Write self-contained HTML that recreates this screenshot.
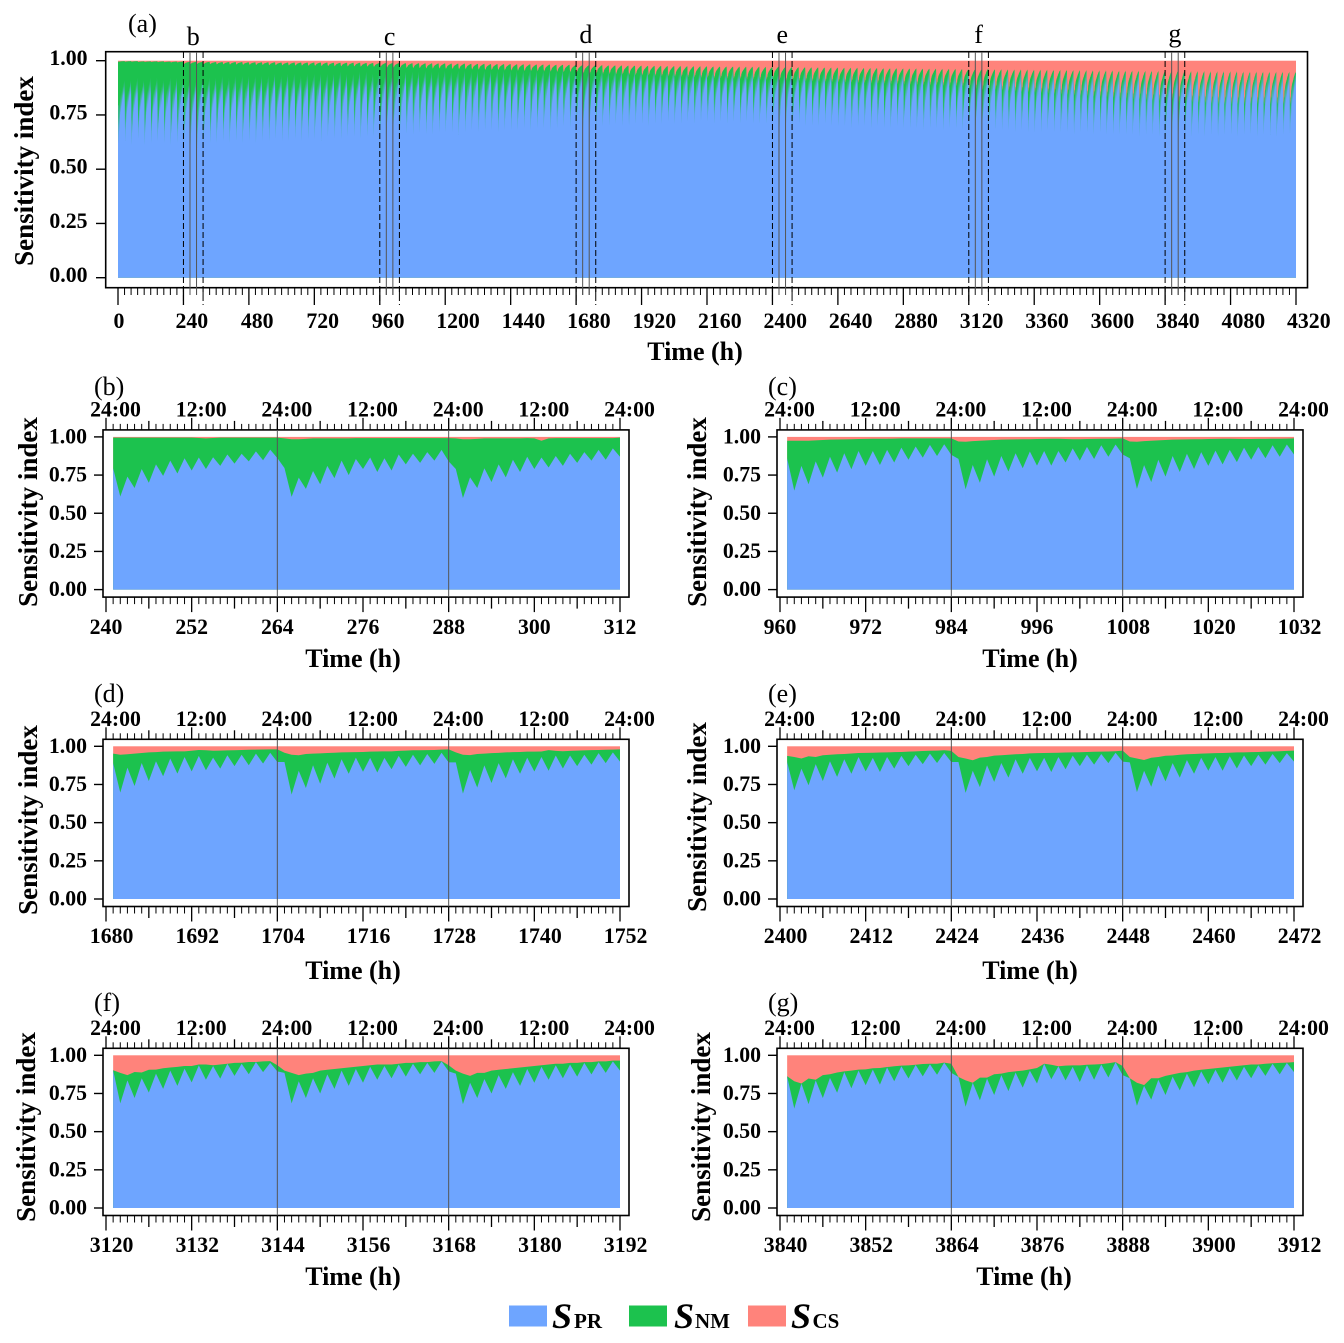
<!DOCTYPE html>
<html>
<head>
<meta charset="utf-8">
<title>Sensitivity index time series</title>
<style>
html,body{margin:0;padding:0;background:#fff;}
svg{display:block;}
text{font-family:"Liberation Serif",serif;fill:#000;}
.tick{font-size:21.8px;font-weight:bold;}
.title{font-size:26px;font-weight:bold;}
.ytitle{font-size:27px;font-weight:bold;}
.tag{font-size:26px;}
</style>
</head>
<body>
<svg id="figure" xmlns="http://www.w3.org/2000/svg" width="1344" height="1343" viewBox="0 0 1344 1343">
  <defs>
    <filter id="soften" x="-1%" y="-1%" width="102%" height="102%"><feGaussianBlur stdDeviation="0.35"/></filter>
  </defs>
  <g id="legend">
    <rect x="509" y="1305.5" width="38" height="21" fill="#6EA5FF"/>
    <text x="552" y="1328" font-size="36" font-weight="bold" font-style="italic">S</text>
    <text x="574" y="1328" font-size="21" font-weight="bold">PR</text>
    <rect x="629" y="1305.5" width="38" height="21" fill="#1CC24E"/>
    <text x="674" y="1328" font-size="36" font-weight="bold" font-style="italic">S</text>
    <text x="695" y="1328" font-size="21" font-weight="bold">NM</text>
    <rect x="748" y="1305.5" width="38" height="21" fill="#FF837B"/>
    <text x="791" y="1328" font-size="36" font-weight="bold" font-style="italic">S</text>
    <text x="812.5" y="1328" font-size="21" font-weight="bold">CS</text>
  </g>
</svg>
<script>
// ---------- shared tick labels ----------
const yTickLabels = ['0.00','0.25','0.50','0.75','1.00'];
const clockTickLabels = ['24:00','12:00','24:00','12:00','24:00','12:00','24:00'];
const overviewTickLabels = ['0','240','480','720','960','1200','1440','1680','1920','2160','2400','2640','2880','3120','3360','3600','3840','4080','4320'];

// ---------- overview panel (a): one reading per day ----------
const overviewDayTroughPR = [
.62,.63,.61,.64,.61,.62,.63,.62,.61,.62,
.61,.61,.60,.62,.62,.62,.63,.62,.63,.62,
.63,.62,.63,.63,.64,.63,.63,.64,.63,.64,
.64,.63,.65,.64,.64,.65,.65,.64,.65,.65,
.65,.66,.66,.65,.66,.66,.67,.66,.66,.67,
.67,.67,.66,.67,.68,.67,.68,.68,.67,.68,
.68,.68,.69,.68,.69,.69,.68,.69,.70,.69,
.70,.684,.70,.69,.70,.70,.71,.70,.70,.71,
.71,.70,.71,.71,.72,.71,.71,.72,.71,.72,
.72,.71,.72,.71,.72,.71,.72,.71,.71,.71,
.712,.695,.71,.70,.71,.70,.70,.70,.71,.70,
.70,.70,.69,.70,.70,.69,.70,.69,.69,.70,
.69,.69,.69,.68,.69,.69,.68,.69,.69,.68,
.685,.685,.68,.68,.68,.68,.68,.67,.68,.67,
.67,.67,.68,.67,.67,.67,.66,.67,.67,.66,
.67,.66,.66,.66,.66,.66,.65,.66,.66,.65,
.652,.663,.66,.66,.65,.66,.65,.66,.65,.66,
.66,.65,.66,.66,.65,.66,.66,.65,.66,.66];
const overviewDayCrestPR = [
.91,.91,.92,.91,.92,.92,.91,.92,.92,.92,
.917,.915,.925,.92,.92,.93,.92,.93,.93,.93,
.93,.93,.93,.94,.93,.94,.94,.93,.94,.94,
.94,.94,.94,.95,.94,.94,.95,.95,.94,.95,
.952,.95,.95,.95,.95,.95,.955,.95,.95,.955,
.95,.955,.955,.95,.955,.955,.955,.955,.955,.955,
.955,.955,.96,.955,.955,.96,.955,.96,.955,.96,
.958,.958,.96,.96,.955,.96,.96,.96,.955,.96,
.96,.96,.955,.96,.96,.96,.96,.955,.96,.96,
.96,.96,.955,.96,.96,.955,.96,.96,.955,.96,
.956,.958,.955,.955,.96,.955,.955,.96,.955,.955,
.96,.955,.955,.955,.96,.955,.955,.955,.955,.96,
.955,.955,.955,.96,.955,.955,.955,.955,.955,.96,
.956,.96,.955,.955,.955,.955,.955,.955,.955,.955,
.955,.955,.955,.955,.95,.955,.955,.955,.95,.955,
.955,.95,.955,.955,.95,.955,.95,.955,.95,.95,
.952,.955,.95,.95,.955,.95,.95,.95,.955,.95,
.95,.95,.955,.95,.95,.95,.95,.95,.95,.95];
const overviewDayTopNM = [
.998,.998,.998,.997,.997,.997,.997,.996,.996,.996,
.995,.995,.995,.995,.994,.994,.994,.994,.994,.993,
.993,.993,.993,.993,.992,.992,.992,.992,.992,.992,
.992,.992,.991,.991,.991,.991,.991,.99,.99,.99,
.99,.99,.99,.989,.989,.989,.988,.988,.988,.988,
.987,.987,.987,.986,.986,.986,.985,.985,.985,.985,
.984,.984,.984,.983,.983,.983,.982,.982,.982,.981,
.98,.98,.98,.98,.979,.979,.979,.978,.978,.978,
.977,.977,.977,.976,.976,.976,.975,.975,.975,.975,
.974,.974,.974,.974,.973,.973,.973,.973,.972,.972,
.974,.972,.972,.971,.971,.97,.97,.97,.969,.969,
.968,.968,.968,.967,.967,.967,.966,.966,.966,.965,
.965,.965,.964,.964,.964,.963,.963,.963,.962,.962,
.962,.962,.965,.961,.961,.96,.96,.96,.96,.959,
.959,.959,.958,.958,.958,.957,.957,.957,.956,.956,
.956,.956,.955,.955,.955,.955,.954,.954,.954,.954,
.952,.955,.954,.953,.953,.953,.952,.952,.952,.952,
.952,.951,.951,.951,.951,.95,.95,.95,.95,.95];
const overviewDayDipNM = [
.995,.995,.995,.994,.994,.994,.993,.993,.992,.992,
.985,.985,.985,.984,.984,.983,.983,.982,.982,.981,
.981,.98,.98,.979,.979,.978,.978,.977,.977,.976,
.976,.975,.975,.974,.974,.973,.973,.972,.972,.971,
.97,.968,.968,.967,.966,.965,.965,.964,.963,.963,
.962,.961,.96,.96,.959,.958,.957,.957,.956,.955,
.954,.953,.952,.952,.951,.95,.949,.948,.947,.946,
.945,.941,.94,.94,.939,.938,.937,.936,.934,.933,
.932,.931,.93,.928,.927,.926,.925,.924,.922,.921,
.92,.919,.918,.917,.916,.915,.914,.913,.912,.911,
.92,.909,.908,.907,.906,.905,.904,.903,.902,.901,
.90,.899,.898,.897,.896,.895,.894,.893,.892,.891,
.89,.889,.888,.887,.886,.885,.884,.883,.882,.881,
.87,.87,.865,.868,.865,.863,.86,.858,.856,.854,
.852,.85,.848,.846,.844,.842,.84,.838,.836,.834,
.832,.83,.828,.826,.824,.822,.82,.818,.816,.814,
.815,.82,.805,.81,.808,.806,.804,.802,.80,.80,
.80,.80,.80,.80,.80,.80,.80,.80,.80,.80];
// hour-of-day position between the day's trough/crest
const hourlyShapePR = [.60,0,.42,.18,.59,.29,.68,.44,.77,.49,.81,.55,.83,.59,.84,.65,.90,.70,.91,.75,.96,.77,1,.82];
const hourlyShapeNM = [.35,.11,0,.24,.18,.40,.45,.53,.58,.62,.66,.68,.73,.74,.79,.82,.85,.87,.90,.93,.95,.95,1,.95];
const overviewWindowStarts = [240,960,1680,2400,3120,3840];
const overviewWindowNames = ['b','c','d','e','f','g'];

// ---------- detail panels: hourly cumulative tops ----------
const panelB_PR = [
.795,.61,.74,.665,.79,.70,.82,.745,.845,.76,.86,.78,.865,.79,.867,.81,.885,.825,.89,.84,.905,.847,.917,.862,
.796,.607,.733,.66,.777,.69,.81,.73,.845,.75,.855,.79,.865,.77,.86,.78,.885,.82,.89,.83,.90,.845,.915,.84,
.79,.60,.735,.665,.795,.705,.82,.735,.85,.77,.87,.79,.865,.80,.875,.81,.89,.83,.90,.845,.915,.85,.925,.87];
const panelB_NM = [
.995,.995,.995,.995,.995,.995,.995,.995,.995,.995,.995,.995,.993,.99,.993,.995,.995,.995,.995,.995,.995,.995,.995,.995,
.99,.985,.985,.987,.99,.99,.99,.99,.99,.99,.992,.992,.992,.992,.992,.992,.992,.992,.992,.992,.992,.992,.992,.992,
.99,.985,.985,.987,.99,.99,.99,.99,.99,.99,.992,.99,.975,.99,.992,.992,.992,.992,.992,.992,.992,.992,.992,.995];
const panelC_PR = [
.86,.648,.81,.69,.84,.733,.87,.766,.893,.788,.908,.81,.908,.816,.915,.832,.93,.85,.937,.864,.948,.875,.952,.882,
.856,.657,.816,.70,.854,.74,.875,.773,.893,.795,.904,.812,.908,.812,.908,.832,.925,.845,.935,.855,.945,.87,.95,.885,
.86,.66,.815,.705,.85,.74,.875,.77,.89,.79,.90,.81,.91,.82,.915,.835,.93,.85,.935,.86,.945,.87,.95,.885];
const panelC_NM = [
.975,.975,.975,.975,.977,.98,.982,.983,.984,.985,.986,.987,.988,.988,.988,.989,.99,.99,.99,.99,.99,.99,.99,.99,
.97,.968,.972,.975,.977,.98,.982,.983,.984,.985,.985,.986,.987,.988,.988,.986,.985,.985,.986,.987,.988,.988,.989,.99,
.97,.968,.972,.975,.977,.98,.982,.983,.984,.985,.985,.986,.987,.988,.988,.987,.986,.986,.987,.987,.988,.988,.989,.99];
const panelD_PR = [
.891,.697,.86,.74,.891,.773,.902,.804,.92,.821,.93,.836,.937,.843,.926,.854,.941,.87,.945,.876,.952,.887,.958,.897,
.897,.684,.84,.727,.876,.755,.893,.788,.915,.82,.926,.833,.924,.828,.924,.85,.937,.865,.945,.875,.95,.885,.958,.895,
.895,.69,.845,.73,.875,.76,.89,.79,.915,.82,.925,.835,.93,.84,.94,.855,.94,.87,.945,.88,.955,.89,.96,.90];
const panelD_NM = [
.952,.945,.948,.952,.956,.96,.962,.965,.966,.967,.967,.971,.976,.974,.971,.972,.973,.974,.976,.977,.978,.979,.98,.98,
.958,.945,.941,.95,.952,.954,.956,.958,.96,.961,.962,.963,.965,.966,.967,.967,.97,.972,.974,.974,.975,.976,.978,.98,
.96,.945,.942,.95,.952,.955,.957,.96,.962,.963,.965,.965,.966,.975,.97,.968,.97,.972,.973,.975,.976,.977,.978,.98];
const panelE_PR = [
.897,.712,.854,.745,.883,.773,.902,.80,.915,.82,.93,.836,.924,.832,.93,.854,.937,.87,.945,.883,.952,.891,.956,.897,
.897,.695,.84,.733,.876,.767,.891,.795,.915,.82,.924,.836,.924,.832,.93,.85,.939,.87,.945,.88,.95,.89,.958,.90,
.895,.70,.84,.735,.875,.77,.89,.795,.91,.82,.925,.84,.93,.84,.935,.855,.94,.87,.945,.88,.95,.89,.955,.90];
const panelE_NM = [
.937,.93,.92,.935,.93,.941,.945,.948,.95,.953,.956,.957,.958,.959,.96,.962,.963,.965,.967,.969,.971,.972,.974,.97,
.93,.92,.909,.926,.93,.939,.941,.945,.948,.95,.954,.955,.956,.957,.958,.959,.96,.961,.963,.964,.965,.966,.968,.972,
.93,.92,.91,.925,.93,.938,.94,.945,.948,.95,.952,.954,.955,.956,.958,.96,.96,.962,.963,.965,.966,.968,.97,.972];
const panelF_PR = [
.902,.685,.836,.72,.85,.756,.88,.78,.90,.80,.913,.823,.934,.84,.93,.847,.945,.865,.945,.876,.956,.89,.95,.895,
.885,.685,.83,.72,.85,.75,.875,.78,.90,.80,.91,.82,.925,.84,.93,.85,.94,.86,.945,.875,.95,.885,.96,.895,
.88,.68,.82,.72,.845,.75,.87,.78,.89,.80,.91,.82,.925,.84,.935,.85,.94,.86,.95,.875,.955,.885,.96,.90];
const panelF_NM = [
.902,.885,.87,.891,.887,.905,.906,.915,.92,.924,.93,.93,.94,.94,.935,.94,.945,.95,.951,.956,.956,.96,.962,.935,
.90,.885,.87,.88,.885,.90,.905,.91,.915,.92,.925,.93,.935,.94,.94,.94,.945,.95,.95,.955,.955,.96,.962,.935,
.90,.88,.865,.885,.885,.90,.905,.91,.915,.92,.925,.93,.935,.94,.945,.945,.95,.95,.955,.955,.96,.96,.965,.965];
const panelG_PR = [
.863,.652,.815,.68,.836,.72,.852,.755,.89,.784,.90,.804,.906,.808,.92,.83,.928,.848,.937,.862,.941,.873,.952,.885,
.858,.663,.82,.706,.847,.74,.87,.765,.887,.788,.90,.815,.945,.843,.928,.836,.924,.825,.935,.84,.94,.855,.955,.87,
.85,.67,.80,.71,.84,.74,.86,.77,.88,.79,.895,.81,.905,.82,.915,.835,.925,.85,.935,.865,.945,.875,.95,.89];
const panelG_NM = [
.863,.83,.815,.848,.84,.87,.876,.887,.895,.90,.906,.908,.915,.917,.923,.928,.932,.934,.938,.943,.945,.945,.952,.945,
.858,.836,.82,.854,.854,.876,.88,.89,.895,.90,.908,.917,.945,.938,.928,.932,.934,.934,.938,.94,.942,.948,.955,.93,
.85,.82,.805,.85,.85,.865,.875,.885,.89,.90,.905,.91,.915,.92,.925,.93,.935,.94,.94,.945,.948,.95,.952,.955];
const panelStartHours = {b:240,c:960,d:1680,e:2400,f:3120,g:3840};

// ---------- drawing ----------
const BLUE='#6EA5FF', GREEN='#1CC24E', RED='#FF837B';
const NS='http://www.w3.org/2000/svg';
const root=document.getElementById('figure');
const legendNode=document.getElementById('legend');
function mk(tag,attrs,parent,txt){
  const e=document.createElementNS(NS,tag);
  for(const k in attrs){e.setAttribute(k,attrs[k]);}
  if(txt!==undefined){e.textContent=txt;}
  (parent||root).appendChild(e);
  return e;
}
function areaPath(xs,ys,base){
  let d='M'+xs[0].toFixed(2)+' '+base.toFixed(2);
  for(let i=0;i<xs.length;i++){d+='L'+xs[i].toFixed(2)+' '+ys[i].toFixed(2);}
  d+='L'+xs[xs.length-1].toFixed(2)+' '+base.toFixed(2)+'Z';
  return d;
}

// --- overview ---
(function(){
  const X=t=>118+t*(1178/4320);
  const Y=v=>277.7-v*217;
  const g=mk('g',{});
  
  
  const xs=[],prY=[],nmY=[];
  overviewDayCrestPR.forEach((crest,d)=>{
    const trough=overviewDayTroughPR[d],top=overviewDayTopNM[d],dip=overviewDayDipNM[d];
    hourlyShapePR.forEach((s,h)=>{
      xs.push(X(d*24+h+1));
      prY.push(Y(trough+(crest-trough)*s));
      nmY.push(Y(dip+(top-dip)*hourlyShapeNM[h]));
    });
  });
  xs.unshift(X(0));prY.unshift(prY[0]);nmY.unshift(nmY[0]);
  const bg=mk('rect',{x:105.7,y:51.7,width:1201.8,height:236,fill:'#fff',stroke:'#000','stroke-width':1.6},g);
  
  
  const cs=mk('rect',{x:X(0),y:Y(1),width:X(4320)-X(0),height:Y(0)-Y(1),fill:RED},g);
  
  
  const nm=mk('path',{d:areaPath(xs,nmY,Y(0)),fill:GREEN},g);
  
  
  const pr=mk('path',{d:areaPath(xs,prY,Y(0)),fill:BLUE,filter:'url(#soften)'},g);
  
  

  const yAxis=mk('g',{},g);
  
  
  yTickLabels.forEach(l=>{
    const v=parseFloat(l);
    mk('line',{x1:96,x2:105.7,y1:Y(v),y2:Y(v),stroke:'#000','stroke-width':1.4},yAxis);
    const t=mk('text',{x:87.5,y:Y(v)+4.5,'text-anchor':'end','class':'tick'},yAxis,l);
    
    
  });
  const xAxis=mk('g',{},g);
  
  
  for(let t=0;t<=4320;t+=24){
    const major=t%240===0;
    mk('line',{x1:X(t),x2:X(t),y1:288,y2:major?305:295,stroke:'#000','stroke-width':major?1.3:1},xAxis);
  }
  overviewTickLabels.forEach(l=>{
    const v=parseFloat(l);
    const off=l.length===1?-4.5:(l.length===3?-8:-9);
    const t=mk('text',{x:X(v)+off,y:328,'class':'tick'},xAxis,l);
    
    
  });
  const tagYs=[45,45,43,43,43,42];
  overviewWindowStarts.forEach((s,i)=>{
    const w=mk('g',{},g);
    
    
    [0,72].forEach(o=>mk('line',{x1:X(s+o),x2:X(s+o),y1:52,y2:305,stroke:'#000','stroke-width':1,'stroke-dasharray':'6 3'},w));
    [24,48].forEach(o=>mk('line',{x1:X(s+o),x2:X(s+o),y1:52,y2:295,stroke:'#555','stroke-width':1},w));
    const t=mk('text',{x:X(s+36),y:tagYs[i],'text-anchor':'middle','class':'tag'},w,overviewWindowNames[i]);
    
    
  });
  const a=mk('text',{x:128,y:32,'class':'tag'},g,'(a)');
  
  
  const yt=mk('text',{x:33,y:171,'text-anchor':'middle','class':'ytitle',transform:'rotate(-90 33 171)'},g,'Sensitivity index');
  
  
  const xt=mk('text',{x:695,y:360,'text-anchor':'middle','class':'title'},g,'Time (h)');
  
  
})();

// --- detail panels ---
function drawPanel(id,prData,nmData,L){
  const start=panelStartHours[id];
  const X=h=>L.axisX+(h-start)*(514/72);
  const Y=v=>L.zero-v*152.7;
  const one=L.zero-152.7;
  const top=one-7, bottom=L.zero+7.5;
  const g=mk('g',{});
  
  
  const frame=mk('rect',{x:L.axisX-3,y:top,width:526,height:bottom-top,fill:'#fff',stroke:'#000','stroke-width':1.6},g);
  
  
  const xs=prData.map((v,i)=>X(start+i+1));
  const cs=mk('rect',{x:xs[0],y:one,width:xs[xs.length-1]-xs[0],height:L.zero-one,fill:RED},g);
  
  
  const nm=mk('path',{d:areaPath(xs,nmData.map(Y),L.zero),fill:GREEN},g);
  
  
  const pr=mk('path',{d:areaPath(xs,prData.map(Y),L.zero),fill:BLUE},g);
  
  
  [24,48].forEach(o=>{
    const m=mk('line',{x1:X(start+o),x2:X(start+o),y1:top-12,y2:bottom,stroke:'#555','stroke-width':1},g);
    
    
  });
  const ya=mk('g',{},g);
  
  
  yTickLabels.forEach(l=>{
    const v=parseFloat(l);
    mk('line',{x1:L.axisX-12,x2:L.axisX-3,y1:Y(v),y2:Y(v),stroke:'#000','stroke-width':1.4},ya);
    const t=mk('text',{x:L.axisX-19,y:Y(v)+6.5,'text-anchor':'end','class':'tick'},ya,l);
    
    
  });
  const xa=mk('g',{},g);
  
  
  const ca=mk('g',{},g);
  
  
  for(let o=0;o<=72;o++){
    const big=o%12===0, mid=o%6===0;
    const lenB=big?15:(mid?11.5:7), lenT=big?12:(mid?9:6);
    const w=mid?1.3:1;
    mk('line',{x1:X(start+o),x2:X(start+o),y1:bottom,y2:bottom+lenB,stroke:'#000','stroke-width':w},xa);
    mk('line',{x1:X(start+o),x2:X(start+o),y1:top,y2:top-lenT,stroke:'#000','stroke-width':w},ca);
  }
  clockTickLabels.forEach((l,i)=>{
    const t=mk('text',{x:X(start+i*12)+9.5,y:top-13.5,'text-anchor':'middle','class':'tick'},ca,l);
    
    
    const hourValue=String(start+i*12);
    const labelShift=hourValue.length===4?5.6:0;
    const b=mk('text',{x:X(start+i*12)+labelShift,y:bottom+36.7,'text-anchor':'middle','class':'tick'},xa,hourValue);
    
    
  });
  const tag=mk('text',{x:L.axisX-12,y:L.tagY,'class':'tag'},g,'('+id+')');
  
  
  const yt=mk('text',{x:L.yTitleX,y:L.yTitleY,'text-anchor':'middle','class':'ytitle',transform:'rotate(-90 '+L.yTitleX+' '+L.yTitleY+')'},g,'Sensitivity index');
  
  
  const xt=mk('text',{x:L.xTitleX,y:L.xTitleY,'text-anchor':'middle','class':'title'},g,'Time (h)');
  
  
}
drawPanel('b',panelB_PR,panelB_NM,{axisX:106,zero:589.6,tagY:395,yTitleX:37,yTitleY:512,xTitleX:353,xTitleY:667});
drawPanel('c',panelC_PR,panelC_NM,{axisX:780,zero:589.6,tagY:395,yTitleX:706,yTitleY:512,xTitleX:1030,xTitleY:667});
drawPanel('d',panelD_PR,panelD_NM,{axisX:106,zero:899,tagY:702,yTitleX:37,yTitleY:820,xTitleX:353,xTitleY:979});
drawPanel('e',panelE_PR,panelE_NM,{axisX:780,zero:899,tagY:702,yTitleX:706,yTitleY:817,xTitleX:1030,xTitleY:979});
drawPanel('f',panelF_PR,panelF_NM,{axisX:106,zero:1208,tagY:1011,yTitleX:35,yTitleY:1127,xTitleX:353,xTitleY:1285});
drawPanel('g',panelG_PR,panelG_NM,{axisX:780,zero:1208,tagY:1011,yTitleX:710,yTitleY:1127,xTitleX:1024,xTitleY:1285});
root.appendChild(legendNode);
</script>
</body>
</html>
